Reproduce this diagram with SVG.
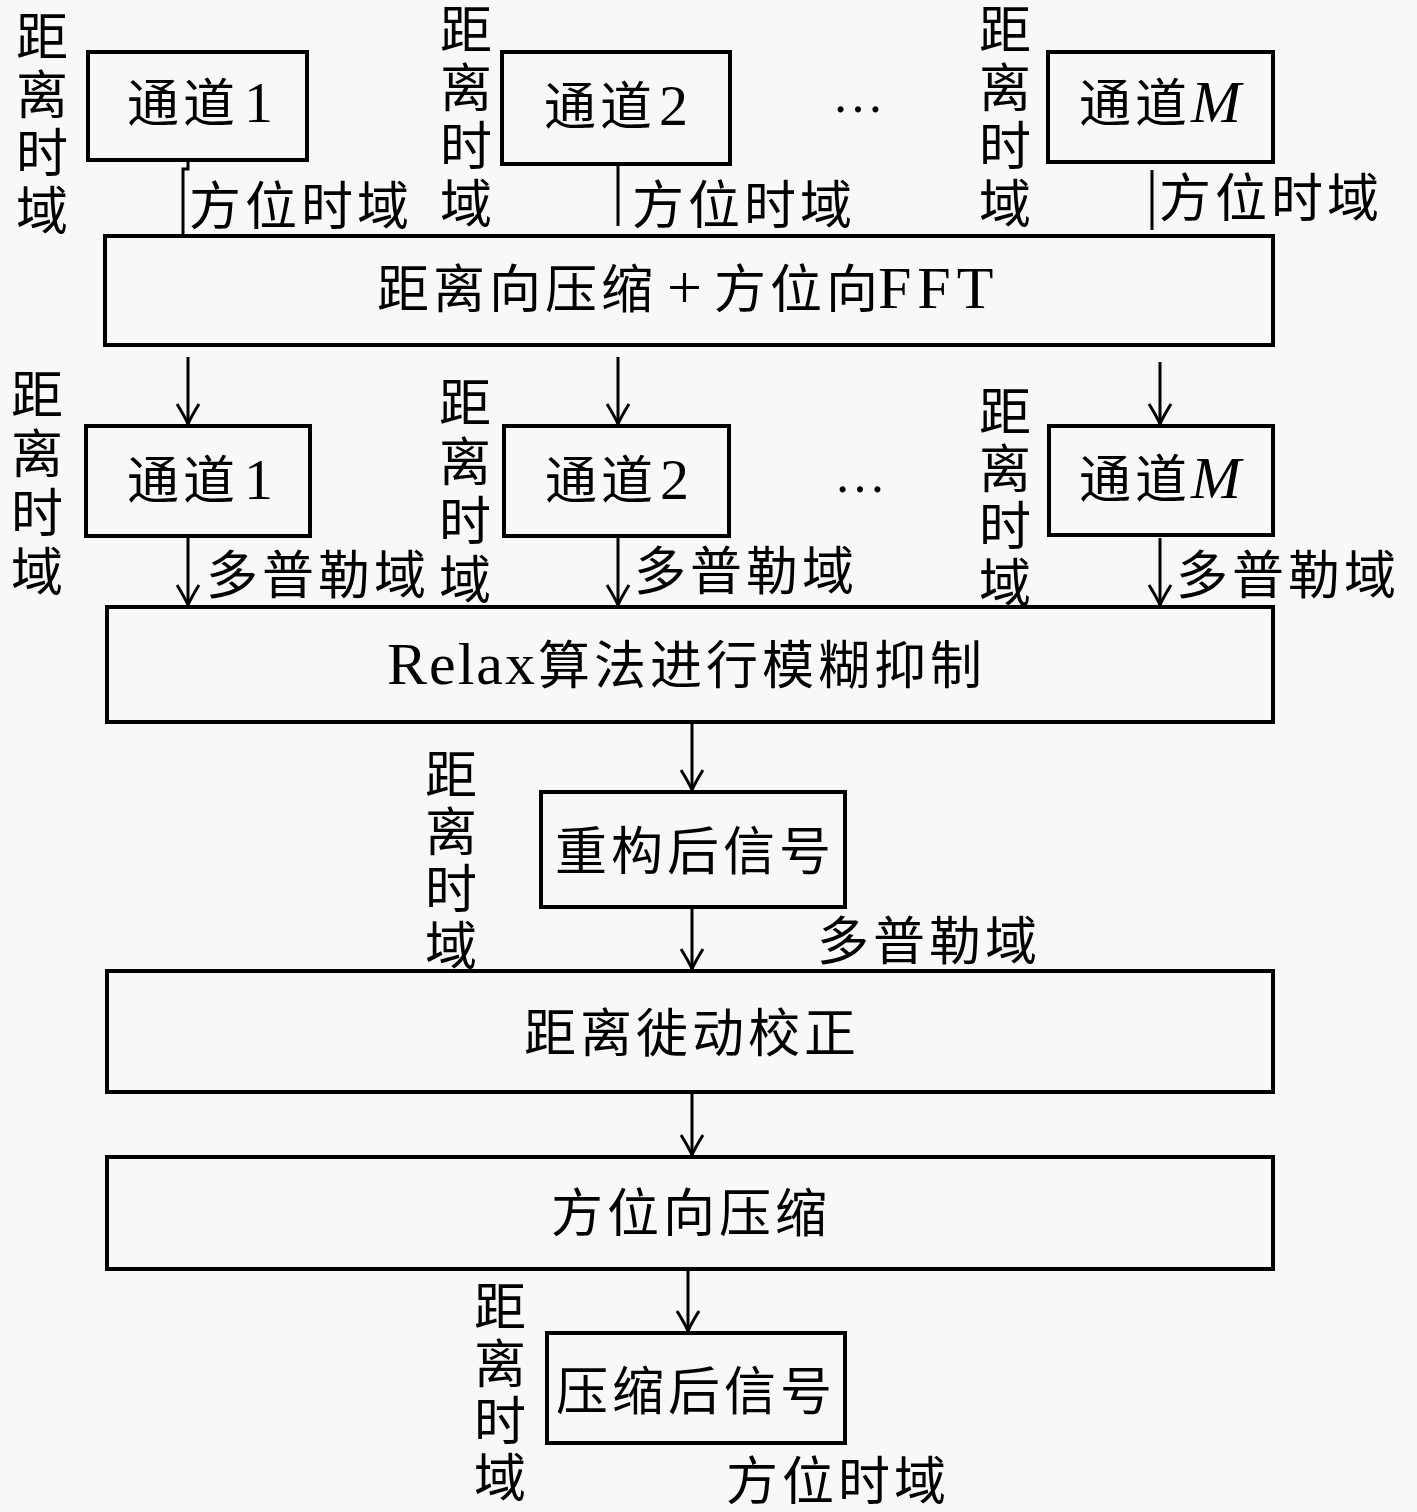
<svg xmlns="http://www.w3.org/2000/svg" width="1417" height="1512" viewBox="0 0 1417 1512">
<style>
.bg{fill:#f8f8f8}
.box{fill:#f8f8f8;stroke:#000;stroke-width:4}
.t{font-family:"Liberation Serif","Noto Sans CJK SC",serif;font-size:52px;fill:#000;letter-spacing:4px}
.c{text-anchor:middle}
.l{font-size:58px;letter-spacing:0}
.ln{fill:none;stroke:#000;stroke-width:3}
.ar{fill:none;stroke:#000;stroke-width:3;marker-end:url(#ah)}
.it{font-style:italic;font-size:60px;letter-spacing:0}
</style>
<defs>
<marker id="ah" markerUnits="userSpaceOnUse" markerWidth="30" markerHeight="30" viewBox="-15 -25 30 30" refX="0" refY="0" orient="auto-start-reverse" overflow="visible">
<path d="M-20,-11 Q-7,-3 0,0 Q-7,3 -20,11" fill="none" stroke="#000" stroke-width="3"/>
</marker>
</defs>
<rect class="bg" x="0" y="0" width="1417" height="1512"/>

<g id="connectors">
<path class="ln" d="M188,161 V169 H183 V236"/>
<path class="ln" d="M618,166 V226"/>
<path class="ln" d="M1152,170 V230"/>
<path class="ar" d="M188,357 V424"/>
<path class="ar" d="M618,357 V424"/>
<path class="ar" d="M1160,362 V424"/>
<path class="ar" d="M188,538 V605"/>
<path class="ar" d="M618,538 V605"/>
<path class="ar" d="M1160,538 V605"/>
<path class="ar" d="M692,724 V790"/>
<path class="ar" d="M692,909 V969"/>
<path class="ar" d="M692,1094 V1155"/>
<path class="ar" d="M688,1271 V1331"/>
</g>

<g id="ch1-top"><rect class="box" x="88" y="52" width="219" height="108"/><text class="t" x="127" y="122">通道<tspan class="l" x="244">1</tspan></text></g>
<g id="ch2-top"><rect class="box" x="502" y="52" width="228" height="112"/><text class="t" x="544" y="125">通道<tspan class="l" x="659">2</tspan></text></g>
<g id="chM-top"><rect class="box" x="1048" y="52" width="225" height="110"/><text class="t" x="1079" y="122">通道<tspan class="it" x="1191">M</tspan></text></g>
<g id="dots-top"><text class="t c" x="858" y="112" style="letter-spacing:0">…</text></g>

<g id="lbl-top">
<text class="t c" x="44" y="56"><tspan x="44">距</tspan><tspan x="44" dy="58">离</tspan><tspan x="44" dy="58">时</tspan><tspan x="44" dy="58">域</tspan></text>
<text class="t c" x="468" y="49"><tspan x="468">距</tspan><tspan x="468" dy="58">离</tspan><tspan x="468" dy="58">时</tspan><tspan x="468" dy="58">域</tspan></text>
<text class="t c" x="1007" y="49"><tspan x="1007">距</tspan><tspan x="1007" dy="58">离</tspan><tspan x="1007" dy="58">时</tspan><tspan x="1007" dy="58">域</tspan></text>
<text class="t" x="189" y="225">方位时域</text>
<text class="t" x="632" y="224">方位时域</text>
<text class="t" x="1159" y="217">方位时域</text>
</g>

<g id="rc-fft"><rect class="box" x="105" y="236" width="1168" height="109"/><text class="t" x="377" y="308">距离向压缩<tspan class="l" x="667" style="font-size:62px">+</tspan><tspan x="714">方位向</tspan><tspan class="l" x="878" style="font-size:60px;letter-spacing:6px">FFT</tspan></text></g>

<g id="ch1-mid"><rect class="box" x="86" y="426" width="224" height="110"/><text class="t" x="127" y="499">通道<tspan class="l" x="244">1</tspan></text></g>
<g id="ch2-mid"><rect class="box" x="504" y="426" width="225" height="110"/><text class="t" x="545" y="499">通道<tspan class="l" x="660">2</tspan></text></g>
<g id="chM-mid"><rect class="box" x="1049" y="426" width="224" height="109"/><text class="t" x="1079" y="498">通道<tspan class="it" x="1191">M</tspan></text></g>
<g id="dots-mid"><text class="t c" x="860" y="492" style="letter-spacing:0">…</text></g>

<g id="lbl-mid">
<text class="t c" x="39" y="414"><tspan x="39">距</tspan><tspan x="39" dy="59">离</tspan><tspan x="39" dy="59">时</tspan><tspan x="39" dy="59">域</tspan></text>
<text class="t c" x="467" y="422"><tspan x="467">距</tspan><tspan x="467" dy="59">离</tspan><tspan x="467" dy="59">时</tspan><tspan x="467" dy="59">域</tspan></text>
<text class="t c" x="1007" y="431"><tspan x="1007">距</tspan><tspan x="1007" dy="57">离</tspan><tspan x="1007" dy="57">时</tspan><tspan x="1007" dy="57">域</tspan></text>
<text class="t" x="206" y="594">多普勒域</text>
<text class="t" x="634" y="590">多普勒域</text>
<text class="t" x="1176" y="594">多普勒域</text>
</g>

<g id="relax"><rect class="box" x="107" y="607" width="1166" height="115"/><text class="t" x="387" y="684"><tspan class="l" style="font-size:60px;letter-spacing:2px">Relax</tspan><tspan x="538">算法进行模糊抑制</tspan></text></g>

<g id="recon"><rect class="box" x="541" y="792" width="304" height="115"/><text class="t c" x="695" y="870">重构后信号</text></g>
<g id="lbl-recon">
<text class="t c" x="453" y="794"><tspan x="453">距</tspan><tspan x="453" dy="57">离</tspan><tspan x="453" dy="57">时</tspan><tspan x="453" dy="57">域</tspan></text>
<text class="t" x="817" y="960">多普勒域</text>
</g>

<g id="rcmc"><rect class="box" x="107" y="971" width="1166" height="121"/><text class="t c" x="692" y="1052">距离徙动校正</text></g>
<g id="azc"><rect class="box" x="107" y="1157" width="1166" height="112"/><text class="t c" x="691" y="1232">方位向压缩</text></g>

<g id="out"><rect class="box" x="547" y="1333" width="298" height="110"/><text class="t c" x="696" y="1410">压缩后信号</text></g>
<g id="lbl-out">
<text class="t c" x="502" y="1326"><tspan x="502">距</tspan><tspan x="502" dy="57">离</tspan><tspan x="502" dy="57">时</tspan><tspan x="502" dy="57">域</tspan></text>
<text class="t" x="726" y="1500">方位时域</text>
</g>
</svg>
